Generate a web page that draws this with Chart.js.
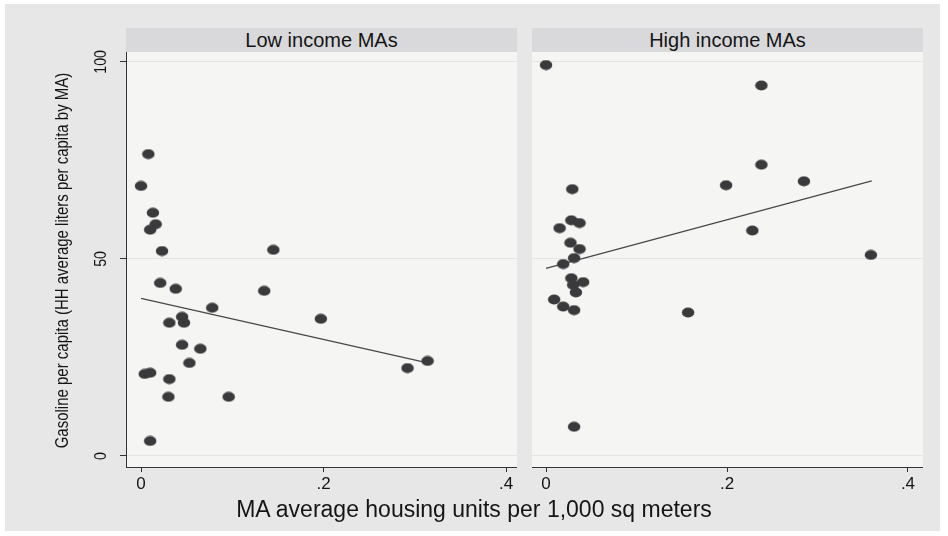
<!DOCTYPE html>
<html>
<head>
<meta charset="utf-8">
<script src="https://cdn.jsdelivr.net/npm/chart.js@4/dist/chart.umd.min.js"></script>
<style>
  html, body { margin: 0; padding: 0; background: #ffffff; }
  body { width: 948px; height: 536px; position: relative; overflow: hidden; }
  #frame { position: absolute; left: 5px; top: 4px; width: 935px; height: 527px; background: #e7e7e7; }
  .head { position: absolute; top: 28px; height: 24px; width: 391px; background: #d9d9db;
          font: 20px 'Liberation Sans', Arial, sans-serif; color: #151515; text-align: center; line-height: 25px; }
  canvas { position: absolute; }
  #xtitle { position: absolute; left: 0; top: 496px; width: 948px; text-align: center;
            font: 23px 'Liberation Sans', Arial, sans-serif; color: #151515; line-height: 27px; }
</style>
</head>
<body>
<div id="frame"></div>
<div class="head" style="left:126px">Low income MAs</div>
<div class="head" style="left:532px">High income MAs</div>
<canvas id="low" width="517" height="484" style="left:0px;top:28px;width:517px;height:484px"></canvas>
<canvas id="high" width="391" height="460" style="left:532px;top:52px;width:391px;height:460px"></canvas>
<div id="xtitle">MA average housing units per 1,000 sq meters</div>
<script>
// Housing density (x) and gasoline per capita (y), low income metro areas
const lowX = [0.000, 0.008, 0.013, 0.016, 0.010, 0.023, 0.021, 0.038, 0.078, 0.045, 0.047, 0.031, 0.045,
              0.065, 0.053, 0.004, 0.010, 0.031, 0.030, 0.096, 0.010, 0.135, 0.145, 0.197, 0.292, 0.314];
const lowY = [68.5, 76.6, 61.7, 58.8, 57.4, 52.0, 43.9, 42.4, 37.6, 35.3, 33.8, 33.8, 28.2,
              27.2, 23.6, 20.8, 21.1, 19.5, 15.0, 15.0, 3.8, 41.9, 52.3, 34.8, 22.3, 24.1];
// Fitted line endpoints, low income
const lowFitX = [0.000, 0.314];
const lowFitY = [40.0, 23.6];

// High income metro areas
const highX = [0.000, 0.029, 0.028, 0.037, 0.015, 0.027, 0.037, 0.031, 0.019, 0.028, 0.030, 0.041,
               0.033, 0.009, 0.019, 0.031, 0.031, 0.157, 0.199, 0.228, 0.238, 0.238, 0.285, 0.359];
const highY = [99.2, 67.7, 59.8, 59.1, 57.8, 54.1, 52.5, 50.2, 48.7, 45.1, 43.4, 44.1,
               41.5, 39.7, 37.9, 37.0, 7.4, 36.4, 68.7, 57.2, 73.9, 94.0, 69.7, 51.0];
// Fitted line endpoints, high income
const highFitX = [0.000, 0.360];
const highFitY = [47.6, 69.8];

// Axis ticks and titles
const xTickValues = [0, 0.2, 0.4];
const xTickLabels = ['0', '.2', '.4'];
const yTickValues = [0, 50, 100];
const yTickLabels = ['0', '50', '100'];
const yTitle = 'Gasoline per capita (HH average liters per capita by MA)';

const FONT = "'Liberation Sans', Arial, sans-serif";
const INK = '#151515';
const DOT = '#3a3a3c';

// Slightly wide elliptical marker
const marker = document.createElement('canvas');
marker.width = 14; marker.height = 11;
(function () {
  const c = marker.getContext('2d');
  c.fillStyle = DOT;
  c.beginPath();
  c.ellipse(7, 5.5, 6.2, 5.0, 0, 0, Math.PI * 2);
  c.fill();
})();

const toPoints = (xs, ys) => xs.map((x, i) => ({ x: x, y: ys[i] }));

// Plot-region background
const plotBg = {
  id: 'plotBg',
  beforeDraw(chart) {
    const a = chart.chartArea, ctx = chart.ctx;
    ctx.save();
    ctx.fillStyle = '#f5f5f3';
    ctx.fillRect(a.left, a.top, a.right - a.left, a.bottom - a.top);
    ctx.restore();
  }
};

// Rotated, narrow y tick labels and y axis title on the left panel
const yText = {
  id: 'yText',
  afterDraw(chart) {
    const s = chart.scales.y, ctx = chart.ctx;
    ctx.save();
    ctx.fillStyle = INK;
    ctx.textAlign = 'center';
    ctx.textBaseline = 'middle';
    ctx.font = '17px ' + FONT;
    yTickValues.forEach((v, i) => {
      ctx.save();
      ctx.translate(101, s.getPixelForValue(v));
      ctx.rotate(-Math.PI / 2);
      ctx.scale(0.84, 1);
      ctx.fillText(yTickLabels[i], 0, 0);
      ctx.restore();
    });
    ctx.font = '18.5px ' + FONT;
    ctx.save();
    ctx.translate(63, (s.top + s.bottom) / 2 + 1);
    ctx.rotate(-Math.PI / 2);
    ctx.scale(0.81, 1);
    ctx.fillText(yTitle, 0, 0);
    ctx.restore();
    ctx.restore();
  }
};

function xScale(min, max) {
  return {
    type: 'linear', min: min, max: max,
    afterBuildTicks(scale) { scale.ticks = xTickValues.map(v => ({ value: v })); },
    afterFit(scale) { scale.height = 45; },
    ticks: {
      padding: 2, color: INK, font: { family: FONT, size: 17 },
      callback(v) { const i = xTickValues.indexOf(v); return i >= 0 ? xTickLabels[i] : ''; }
    },
    grid: { drawOnChartArea: false, drawTicks: true, tickLength: 5, tickColor: '#333', lineWidth: 1 },
    border: { display: true, color: '#333', width: 1 }
  };
}

function yScale(isLeft) {
  return {
    type: 'linear', min: -2.8, max: 102.5,
    afterBuildTicks(scale) { scale.ticks = yTickValues.map(v => ({ value: v })); },
    afterFit(scale) { scale.width = isLeft ? 126 : 0; },
    ticks: { display: false },
    grid: { color: '#e4e4e4', lineWidth: 1, drawTicks: isLeft, tickLength: 6, tickColor: '#333' },
    border: { display: isLeft, color: '#333', width: 1 },
    title: { display: false }
  };
}

function makeChart(id, xs, ys, fx, fy, xmin, xmax, isLeft) {
  return new Chart(document.getElementById(id), {
    data: {
      datasets: [
        {
          type: 'line', data: toPoints(fx, fy),
          borderColor: '#48484a', borderWidth: 1.2, pointRadius: 0, fill: false, order: 2
        },
        {
          type: 'scatter', data: toPoints(xs, ys),
          pointStyle: marker, pointRadius: 6, backgroundColor: DOT, borderWidth: 0, order: 1
        }
      ]
    },
    options: {
      responsive: false, animation: false, devicePixelRatio: 1,
      layout: { padding: { top: isLeft ? 24 : 0, left: 0, right: 0, bottom: 0 }, autoPadding: false },
      plugins: { legend: { display: false }, tooltip: { enabled: false } },
      scales: { x: xScale(xmin, xmax), y: yScale(isLeft) }
    },
    plugins: isLeft ? [plotBg, yText] : [plotBg]
  });
}

makeChart('low', lowX, lowY, lowFitX, lowFitY, -0.0165, 0.412, true);
makeChart('high', highX, highY, highFitX, highFitY, -0.0155, 0.4166, false);
</script>
</body>
</html>
